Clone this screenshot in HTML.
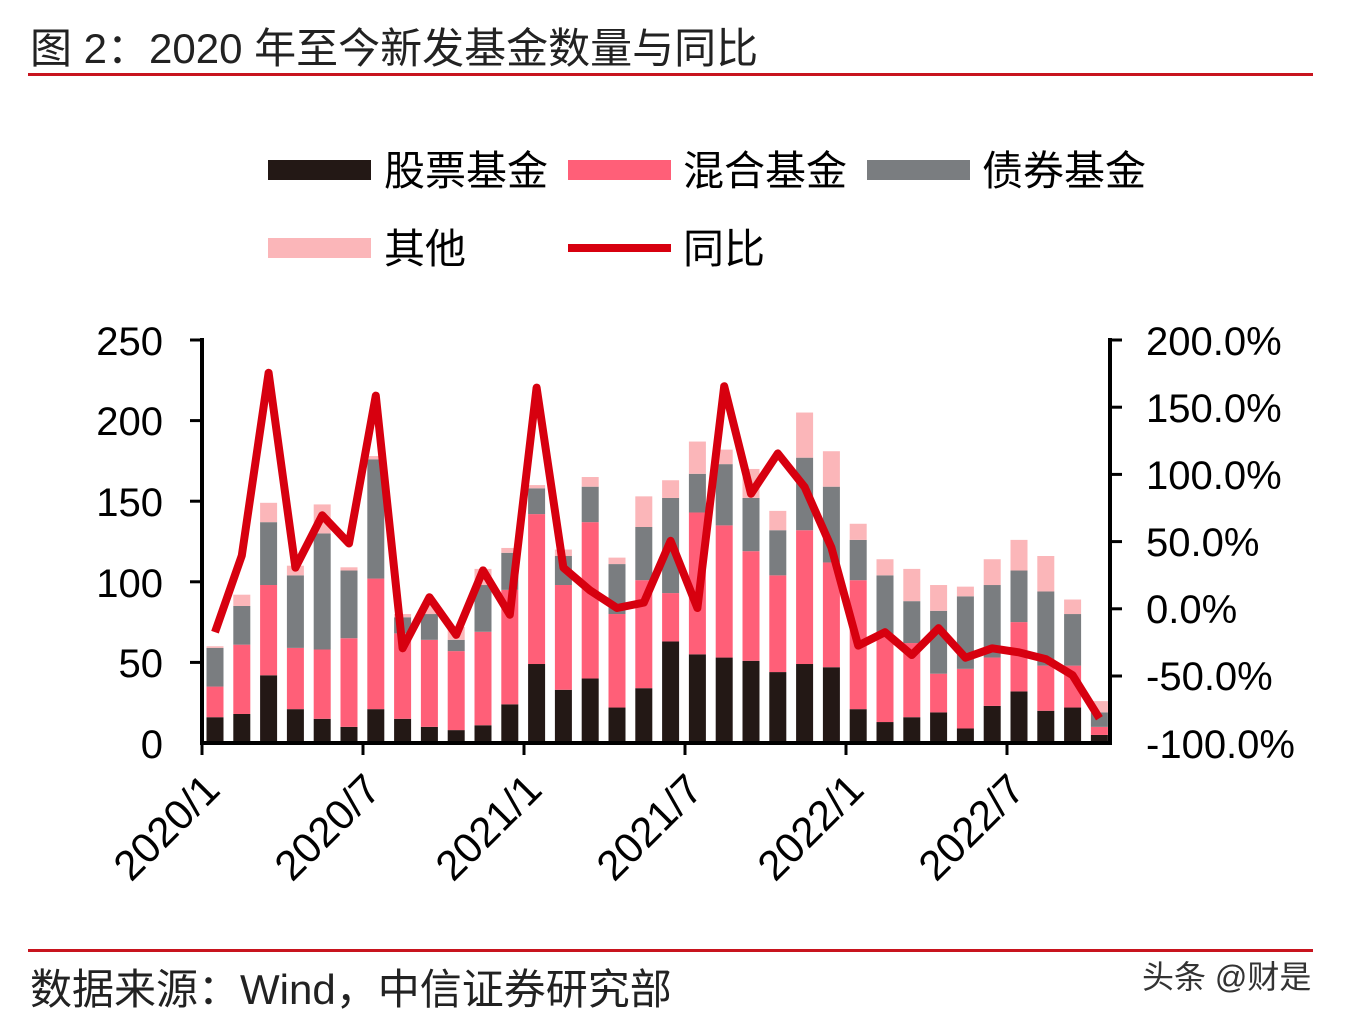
<html><head><style>body{margin:0;background:#fff}svg text{font-family:"Liberation Sans","Noto Sans CJK SC",sans-serif}</style></head><body>
<svg width="1352" height="1024" xmlns="http://www.w3.org/2000/svg">
<text x="30" y="63" font-size="42" fill="#222">图 2：2020 年至今新发基金数量与同比</text>
<rect x="28" y="73" width="1285" height="3" fill="#c8141e"/>
<rect x="28" y="949" width="1285" height="3" fill="#c8141e"/>
<text x="30" y="1004" font-size="42" fill="#222">数据来源：Wind，中信证券研究部</text>
<text x="1142" y="988" font-size="32" fill="#333">头条 @财是</text>
<rect x="268" y="160" width="103" height="20" fill="#231815"/><text x="384" y="185" font-size="41">股票基金</text>
<rect x="568" y="160" width="103" height="20" fill="#ff5f78"/><text x="683" y="185" font-size="41">混合基金</text>
<rect x="867" y="160" width="103" height="20" fill="#7a7d80"/><text x="982" y="185" font-size="41">债券基金</text>
<rect x="268" y="238" width="103" height="20" fill="#fbb6b9"/><text x="384" y="263" font-size="41">其他</text>
<rect x="568" y="244" width="103" height="8" fill="#d7000f"/><text x="683" y="263" font-size="41">同比</text>
<g id="bars"></g>
<g stroke="#000" stroke-width="4" fill="none">
<line x1="202" y1="338" x2="202" y2="745"/><line x1="200" y1="743" x2="1110" y2="743"/><line x1="1110" y1="338" x2="1110" y2="745"/>
</g>
<g stroke="#000" stroke-width="3">
<line x1="190" y1="340" x2="202" y2="340"/><line x1="190" y1="420.6" x2="202" y2="420.6"/><line x1="190" y1="501.2" x2="202" y2="501.2"/><line x1="190" y1="581.8" x2="202" y2="581.8"/><line x1="190" y1="662.4" x2="202" y2="662.4"/>
<line x1="1110" y1="340" x2="1122" y2="340"/><line x1="1110" y1="407.2" x2="1122" y2="407.2"/><line x1="1110" y1="474.4" x2="1122" y2="474.4"/><line x1="1110" y1="541.6" x2="1122" y2="541.6"/><line x1="1110" y1="608.8" x2="1122" y2="608.8"/><line x1="1110" y1="676" x2="1122" y2="676"/>
<line x1="202" y1="743" x2="202" y2="755"/><line x1="363" y1="743" x2="363" y2="755"/><line x1="524" y1="743" x2="524" y2="755"/><line x1="685" y1="743" x2="685" y2="755"/><line x1="846" y1="743" x2="846" y2="755"/><line x1="1007" y1="743" x2="1007" y2="755"/>
</g>
<g font-size="40" text-anchor="end" fill="#000">
<text x="163" y="355">250</text><text x="163" y="435">200</text><text x="163" y="516">150</text><text x="163" y="597">100</text><text x="163" y="677">50</text><text x="163" y="758">0</text>
</g>
<g font-size="40" fill="#000">
<text x="1146" y="355">200.0%</text><text x="1146" y="422">150.0%</text><text x="1146" y="489">100.0%</text><text x="1146" y="556">50.0%</text><text x="1146" y="623">0.0%</text><text x="1146" y="690">-50.0%</text><text x="1146" y="758">-100.0%</text>
</g>
<g font-size="42" text-anchor="end" fill="#000">
<text transform="translate(222,792) rotate(-45)">2020/1</text>
<text transform="translate(383,792) rotate(-45)">2020/7</text>
<text transform="translate(544,792) rotate(-45)">2021/1</text>
<text transform="translate(705,792) rotate(-45)">2021/7</text>
<text transform="translate(866,792) rotate(-45)">2022/1</text>
<text transform="translate(1027,792) rotate(-45)">2022/7</text>
</g>
<polyline id="ln" fill="none" stroke="#d7000f" stroke-width="8" stroke-linejoin="round"/>
<script>
var d=[[16,35,59,60,-18],[18,61,85,92,39],[42,98,137,149,175],[21,59,104,110,30],[15,58,130,148,69],[10,65,107,109,48],[21,102,176,178,158],[15,68,78,80,-30],[10,64,80,86,8],[8,57,64,72,-20],[11,69,98,108,28],[24,95,118,121,-5],[49,142,158,160,164],[33,98,116,120,30],[40,137,159,165,13],[22,80,111,115,0],[34,101,134,153,4],[63,93,152,163,50],[55,143,167,187,0],[53,135,173,182,165],[51,119,152,170,85],[44,104,132,144,115],[49,132,177,205,90],[47,112,159,181,45],[21,101,126,136,-28],[13,66,104,114,-18],[16,62,88,108,-35],[19,43,82,98,-15],[9,46,91,97,-37],[23,53,98,114,-30],[32,75,107,126,-33],[20,48,94,116,-38],[22,48,80,89,-50],[5,10,19,26,-82]];
var ns="http://www.w3.org/2000/svg",g=document.getElementById("bars"),pts=[];
function Y(v){return 743-v*1.612}
var cols=["#231815","#ff5f78","#7a7d80","#fbb6b9"];
d.forEach(function(r,i){var x=215+i*26.8,p=0;for(var k=0;k<4;k++){var t=r[k];var e=document.createElementNS(ns,"rect");e.setAttribute("x",x-8.5);e.setAttribute("width",17);e.setAttribute("y",Y(t));e.setAttribute("height",Math.max(0,Y(p)-Y(t)));e.setAttribute("fill",cols[k]);g.appendChild(e);p=t;}pts.push(x+","+(608-r[4]*1.344));});
document.getElementById("ln").setAttribute("points",pts.join(" "));
</script>
</svg></body></html>
